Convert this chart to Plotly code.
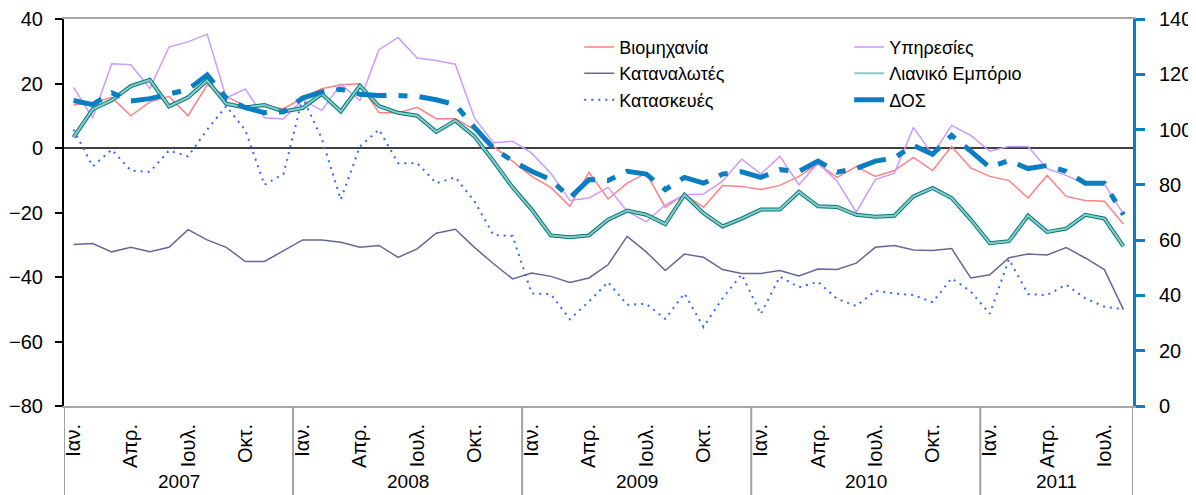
import plotly.graph_objects as go

# months Jan 2007 .. Aug 2011
month_names = ["Ιαν.", "Φεβ.", "Μαρ.", "Απρ.", "Μάι.", "Ιουν.",
               "Ιουλ.", "Αυγ.", "Σεπ.", "Οκτ.", "Νοέ.", "Δεκ."]
year_list = [2007, 2008, 2009, 2010, 2011]
n_months = 56
periods = [(y, m) for y in year_list for m in month_names][:n_months]
x_idx = list(range(len(periods)))
shown_months = ["Ιαν.", "Απρ.", "Ιουλ.", "Οκτ."]

# left axis series (balance of answers)
industry = [13.4, 14.0, 15.7, 10.0, 14.3, 16.0, 10.0, 19.6, 16.0, 13.0,
            12.9, 12.2, 15.5, 18.4, 19.6, 19.9, 10.9, 10.9, 12.6, 9.1,
            9.1, 5.7, 0.5, -4.1, -8.8, -12.2, -18.1, -7.5, -15.8, -10.9,
            -7.8, -18.4, -14.3, -18.4, -11.6, -11.9, -12.9, -11.6, -8.8, -5.0,
            -9.1, -5.8, -8.8, -7.0, -2.9, -7.0, 0.5, -6.2, -8.8, -10.1,
            -15.5, -8.5, -15.0, -16.3, -16.5, -23.6]
services = [18.8, 9.3, 26.1, 25.8, 18.4, 31.3, 32.9, 35.3, 15.5, 18.3,
            9.4, 9.0, 15.0, 11.6, 19.8, 14.7, 30.5, 34.3, 27.9, 27.1,
            26.0, 9.3, 1.6, 2.1, -1.6, -7.8, -16.3, -15.5, -12.2, -19.6,
            -22.9, -17.6, -14.5, -14.3, -10.3, -3.4, -8.1, -2.6, -11.4, -4.7,
            -10.3, -19.9, -9.8, -7.8, 6.4, -2.1, 7.0, 3.9, -1.0, 0.5,
            0.5, -6.4, -8.5, -11.2, -11.2, -20.5]
consumers = [-29.9, -29.6, -32.2, -30.8, -32.2, -30.8, -25.3, -28.5, -30.8, -35.2,
             -35.2, -31.8, -28.5, -28.5, -29.2, -30.8, -30.2, -33.9, -31.3, -26.4,
             -25.2, -30.8, -35.9, -40.6, -38.8, -39.8, -41.7, -40.3, -36.2, -27.4,
             -32.2, -38.0, -32.9, -33.9, -37.7, -38.9, -38.9, -38.0, -39.7, -37.5,
             -37.7, -35.7, -30.8, -30.2, -31.6, -31.8, -31.2, -40.3, -39.3, -34.0,
             -32.9, -33.2, -30.9, -34.1, -37.7, -50.1]
retail = [3.3, 12.0, 14.8, 19.2, 21.1, 12.9, 15.7, 20.9, 13.7, 12.6,
          13.3, 11.3, 12.4, 16.8, 11.3, 19.3, 13.0, 10.9, 10.0, 5.0,
          8.5, 3.6, -4.1, -12.2, -19.1, -27.1, -27.7, -27.1, -22.2, -19.4,
          -20.7, -23.6, -14.5, -20.2, -24.3, -21.9, -19.1, -19.1, -13.6, -18.1,
          -18.3, -20.7, -21.3, -21.0, -15.0, -12.4, -15.5, -22.2, -29.5, -28.9,
          -21.0, -26.0, -25.0, -20.7, -21.9, -30.5]
construction = [5.7, -5.7, -0.5, -7.0, -7.4, -0.8, -2.6, 5.7, 13.0, 5.5,
                -11.4, -8.0, 15.6, 3.0, -16.0, 0.5, 5.7, -4.7, -4.7, -10.9,
                -9.1, -16.5, -27.0, -27.3, -45.1, -45.3, -53.1, -47.6, -41.6, -48.6,
                -48.3, -53.0, -45.1, -55.5, -46.6, -39.2, -51.5, -39.9, -43.2, -41.5,
                -46.8, -49.0, -44.3, -45.1, -45.6, -47.8, -40.4, -44.5, -51.4, -34.5,
                -45.3, -45.6, -42.4, -46.6, -49.2, -50.0]

# right axis: economic sentiment indicator
esi = [110.5, 109.0, 113.3, 110.3, 111.2, 112.9, 114.5, 119.8, 111.4, 107.9,
       106.1, 106.4, 111.4, 113.6, 114.6, 112.8, 112.3, 112.3, 112.0, 110.8,
       109.0, 100.8, 93.3, 88.6, 84.9, 81.9, 75.3, 81.9, 81.6, 84.9,
       83.9, 78.3, 82.7, 80.6, 83.9, 84.7, 82.7, 85.5, 84.9, 88.6,
       84.6, 85.9, 88.6, 89.7, 94.3, 91.1, 97.9, 92.2, 86.3, 88.8,
       85.9, 87.0, 84.9, 80.6, 80.6, 69.2]

FONT = "Liberation Sans, Arial, sans-serif"
BLUE = "#0B7EC2"

fig = go.Figure()

fig.add_trace(go.Scatter(x=x_idx, y=industry, name="Βιομηχανία", mode="lines",
                         line=dict(color="#FF8080", width=1.5), legend="legend"))
fig.add_trace(go.Scatter(x=x_idx, y=services, name="Υπηρεσίες", mode="lines",
                         line=dict(color="#CC99FF", width=1.5), legend="legend2"))
fig.add_trace(go.Scatter(x=x_idx, y=consumers, name="Καταναλωτές", mode="lines",
                         line=dict(color="#666699", width=1.5), legend="legend"))
# retail drawn as a dark edge + light core
fig.add_trace(go.Scatter(x=x_idx, y=retail, mode="lines", showlegend=False,
                         line=dict(color="#007A7A", width=4), hoverinfo="skip"))
fig.add_trace(go.Scatter(x=x_idx, y=retail, name="Λιανικό Εμπόριο", mode="lines",
                         line=dict(color="#8CCACA", width=2), legend="legend2"))
fig.add_trace(go.Scatter(x=x_idx, y=construction, name="Κατασκευές", mode="lines",
                         line=dict(color="#3366FF", width=2, dash="2px,5px"),
                         legend="legend"))
fig.add_trace(go.Scatter(x=x_idx, y=esi, name="ΔΟΣ", mode="lines", yaxis="y2",
                         line=dict(color=BLUE, width=5, dash="30px,12px,9px,12px"),
                         legend="legend2"))

tickvals = [i for i, (y, m) in enumerate(periods) if m in shown_months]
ticktext = [periods[i][1] for i in tickvals]

# year separators and labels under the axis
shapes = []
annotations = []
for yr in year_list:
    idx = [i for i, (y, m) in enumerate(periods) if y == yr]
    shapes.append(dict(type="line", xref="x", yref="paper", x0=idx[0] - 0.5, x1=idx[0] - 0.5,
                       y0=0, y1=-0.235, line=dict(color="#A0A0A0", width=2)))
    annotations.append(dict(x=(idx[0] + idx[-1]) / 2, y=-0.194, xref="x", yref="paper",
                            text=str(yr), showarrow=False, yanchor="middle", borderpad=0,
                            font=dict(size=19, family=FONT, color="black")))
shapes.append(dict(type="line", xref="x", yref="paper", x0=len(periods) - 0.5,
                   x1=len(periods) - 0.5, y0=0, y1=-0.235,
                   line=dict(color="#A0A0A0", width=2)))

legend_style = dict(font=dict(size=18, family=FONT, color="black"),
                    bgcolor="rgba(0,0,0,0)", borderwidth=0, orientation="v",
                    xanchor="left", yanchor="top", tracegroupgap=0)

# the page body adds an 8px offset, so the figure is sized 8px smaller
fig.update_layout(
    width=1188, height=487,
    margin=dict(l=56, r=63, t=11, b=89, autoexpand=False),
    plot_bgcolor="white", paper_bgcolor="white",
    font=dict(family=FONT, size=18, color="black"),
    xaxis=dict(range=[-0.5, len(periods) - 0.5], tickmode="array", tickvals=tickvals,
               ticktext=ticktext, tickangle=-90, ticks="", showgrid=False, zeroline=False,
               showline=True, linecolor="#A6A6A6", linewidth=2, mirror=True,
               ticklabelstandoff=8, tickfont=dict(size=20), automargin=False),
    yaxis=dict(range=[-80, 40], dtick=20, showgrid=False, showline=True, linecolor="black",
               linewidth=2, ticks="outside", ticklen=7, tickwidth=2, tickcolor="black",
               zeroline=True, zerolinecolor="#404040", zerolinewidth=1.5,
               ticklabelstandoff=8, tickfont=dict(size=20), automargin=False,
               ticklabeloverflow="allow"),
    yaxis2=dict(range=[0, 140], dtick=20, overlaying="y", side="right", showgrid=False,
                showline=True, linecolor=BLUE, linewidth=3, ticks="outside", ticklen=9,
                tickwidth=3, tickcolor=BLUE, zeroline=False, ticklabelstandoff=10,
                tickfont=dict(size=20, color="black"), automargin=False,
                ticklabeloverflow="allow"),
    legend=dict(x=0.482, y=0.975, **legend_style),
    legend2=dict(x=0.7345, y=0.975, **legend_style),
    shapes=shapes,
    annotations=annotations,
    showlegend=True,
)

fig.write_html("out.html")
